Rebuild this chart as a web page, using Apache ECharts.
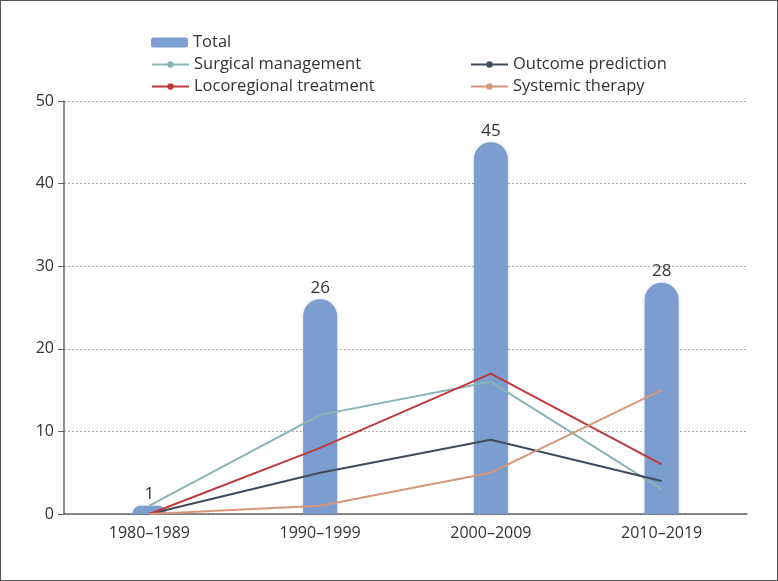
<!DOCTYPE html>
<html>
<head>
<meta charset="utf-8">
<script src="https://cdn.jsdelivr.net/npm/echarts@6/dist/echarts.min.js"></script>
<style>
  html, body { margin: 0; padding: 0; background: #fff; }
  #chart { width: 778px; height: 581px; border: 1px solid #555; box-sizing: border-box; }
</style>
</head>
<body>
<div id="chart"></div>
<script>
// decades on the x axis
var categories = ["1980–1989", "1990–1999", "2000–2009", "2010–2019"];
// number of papers
var total = [1, 26, 45, 28];
var surgical = [1, 12, 16, 3];
var outcome = [0, 5, 9, 4];
var locoregional = [0, 8, 17, 6];
var systemic = [0, 1, 5, 15];

var textColor = "#333";
var fontName = "Open Sans";

var chart = echarts.init(document.getElementById("chart"));

function lineSeries(name, data, color) {
  return {
    name: name,
    type: "line",
    data: data,
    symbol: "circle",
    symbolSize: 6,
    showSymbol: false,
    z: 3,
    lineStyle: { color: color, width: 2 },
    itemStyle: { color: color }
  };
}

var legendText = { color: textColor, fontSize: 16.5, fontFamily: fontName };

var option = {
  animation: false,
  textStyle: { fontFamily: fontName },
  grid: { left: 63, right: 30, top: 100, bottom: 66 },
  legend: [
    {
      data: ["Total"],
      left: 145, top: 28,
      itemWidth: 37, itemHeight: 10,
      textStyle: legendText
    },
    {
      data: ["Surgical management", "Locoregional treatment"],
      orient: "vertical",
      left: 145, top: 50,
      itemWidth: 37, itemHeight: 8, itemGap: 5,
      textStyle: legendText
    },
    {
      data: ["Outcome prediction", "Systemic therapy"],
      orient: "vertical",
      left: 464, top: 50,
      itemWidth: 37, itemHeight: 8, itemGap: 5,
      textStyle: legendText
    }
  ],
  xAxis: {
    type: "category",
    data: categories,
    boundaryGap: true,
    axisLine: { lineStyle: { color: "#666", width: 1.5 } },
    axisTick: { alignWithLabel: true, length: 6, lineStyle: { color: "#666" } },
    axisLabel: { color: textColor, fontSize: 16, margin: 11 }
  },
  yAxis: {
    type: "value",
    min: 0, max: 50, interval: 10,
    axisLine: { show: true, lineStyle: { color: "#666", width: 1.5 } },
    axisTick: { show: true, length: 6, lineStyle: { color: "#666" } },
    axisLabel: { color: textColor, fontSize: 16, margin: 10 },
    splitLine: { lineStyle: { color: "#aaa", type: [2, 2] } }
  },
  series: [
    {
      name: "Total",
      type: "bar",
      data: total,
      barWidth: 34,
      z: 2,
      itemStyle: {
        color: "#7b9dcf",
        borderRadius: [17, 17, 0, 0],
        shadowColor: "rgba(60,80,120,0.25)",
        shadowBlur: 3
      },
      label: {
        show: true,
        position: "top",
        distance: 3,
        color: textColor,
        fontSize: 17
      }
    },
    lineSeries("Surgical management", surgical, "#8ab4b5"),
    lineSeries("Outcome prediction", outcome, "#3f4b5b"),
    lineSeries("Locoregional treatment", locoregional, "#c03a3c"),
    lineSeries("Systemic therapy", systemic, "#d8967a")
  ]
};

chart.setOption(option);
</script>
</body>
</html>
